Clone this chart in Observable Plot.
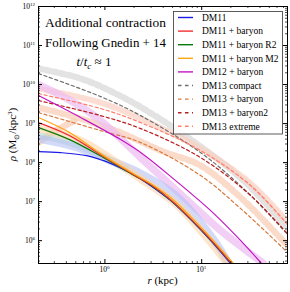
<!DOCTYPE html>
<html><head><meta charset="utf-8">
<script src="https://cdn.jsdelivr.net/npm/d3@7"></script>
<script src="https://cdn.jsdelivr.net/npm/@observablehq/plot@0.6"></script>
<style>body{margin:0;background:#fff}#c{width:290px;height:292px}</style>
</head><body><div id="c"></div>
<script>
// ---- data (r in kpc, rho in Msun/kpc^3) ----
const dm11_r   = [0.206, 0.348, 0.647, 0.97, 1.23, 1.98, 2.97, 4.78, 7.70, 12.4, 19.95];
const dm11_rho = [1.91e8, 1.80e8, 1.51e8, 1.12e8, 8.9e7, 4.9e7, 2.57e7, 1.06e7, 3.45e6, 1.0e6, 2.57e5];
const dm11b_r   = [0.206, 0.431, 0.97, 1.98, 2.97, 4.78, 7.70, 12.4, 20.4];
const dm11b_rho = [1.06e9, 4.92e8, 1.43e8, 4.9e7, 2.73e7, 1.12e7, 3.66e6, 1.06e6, 2.57e5];
const dm11r2_r   = [0.206, 0.431, 0.97, 1.98, 2.97, 4.78, 7.70, 12.4, 20.4];
const dm11r2_rho = [7.9e8, 3.89e8, 1.34e8, 4.78e7, 2.65e7, 1.09e7, 3.56e6, 1.03e6, 2.57e5];
const dm11m2_r   = [0.206, 0.431, 0.97, 1.98, 2.97, 4.78, 7.70, 12.4, 21.4];
const dm11m2_rho = [1.43e9, 5.9e8, 1.51e8, 5.2e7, 2.9e7, 1.27e7, 4.12e6, 1.19e6, 2.57e5];
const dm12b_r   = [0.206, 0.561, 1.453, 2.513, 5.384, 12.39, 25.31, 41.7];
const dm12b_rho = [5.22e9, 1.43e9, 3.89e8, 1.60e8, 3.45e7, 5.87e6, 1.0e6, 2.57e5];
const dm13c_r   = [0.206, 0.903, 2.34, 9.76, 28.5, 77];
const dm13c_rho = [1.91e10, 4.92e9, 1.60e9, 1.80e8, 1.91e7, 1.45e6];
const dm13b_r   = [0.206, 0.903, 2.34, 9.76, 25.3, 77];
const dm13b_rho = [1.91e9, 6.62e8, 3.26e8, 4.65e7, 6.62e6, 5.0e5];
const dm13b2_r   = [0.206, 0.903, 2.34, 9.76, 32.1, 77];
const dm13b2_rho = [3.89e9, 1.60e9, 7.45e8, 1.34e8, 1.43e7, 1.5e6];
const dm13x_r   = [0.206, 0.903, 2.34, 9.76, 32.1, 77];
const dm13x_rho = [5.87e9, 2.43e9, 1.06e9, 2.03e8, 2.57e7, 2.6e6];
// simulation bands (thick, faded)
const simGrey_r = [0.206, 0.561, 1.23, 2.70, 9.76, 28.5, 77];
const simGrey_rho = [2.57e10, 1.43e10, 6.24e9, 2.15e9, 2.57e8, 3.07e7, 2.1e6];
const simSalUp_r = [0.206, 0.903, 2.34, 9.76, 32.1, 77];
const simSalUp_rho = [7.9e9, 3.45e9, 1.34e9, 2.29e8, 2.90e7, 3.0e6];
const simSalLow_r = [0.206, 0.561, 1.453, 3.77, 9.76, 25.3, 77];
const simSalLow_rho = [2.57e9, 1.34e9, 5.87e8, 2.03e8, 8.38e7, 1.27e7, 7.5e5];
const simSalCore_r = [0.206, 0.309, 0.498];
const simSalCore_rho = [3.26e8, 6.62e8, 1.19e9];
const simPink_r = [0.206, 0.442, 0.903, 2.34, 7.165, 15.72, 43.8];
const simPink_rho = [1.0e10, 3.89e9, 1.19e9, 1.34e8, 1.06e7, 1.80e6, 2.57e5];
const simTeal_r = [0.206, 0.442, 0.903, 1.64];
const simTeal_rho = [4.92e8, 3.26e8, 1.51e8, 7.0e7];
const simBlue_r = [0.206, 0.561, 1.145, 2.34, 5.38, 12.39, 19.0];
const simBlue_rho = [4.12e8, 2.29e8, 1.12e8, 5.22e7, 1.43e7, 1.34e6, 2.57e5];
const simOrange_r = [0.206, 0.561, 1.145, 2.34, 5.38, 11.0, 18.5];
const simOrange_rho = [7.45e8, 3.66e8, 1.27e8, 3.89e7, 8.9e6, 1.3e6, 2.57e5];

// legend
const legendNames = ["DM11", "DM11 + baryon", "DM11 + baryon R2", "DM11 + baryon M2", "DM12 + baryon",
  "DM13 compact", "DM13 + baryon", "DM13 + baryon2", "DM13 extreme"];
const legendColors = ["#1a1ae6", "#f03030", "#0a780a", "#ffa510", "#c414c4", "#6e6e6e", "#d8783e", "#b81c1c", "#ff7d6a"];
const legendDashed = [false, false, false, false, false, true, true, true, true];

// ticks
const xMajor = [1, 10];
const xMinor = [0.3,0.4,0.5,0.6,0.7,0.8,0.9,2,3,4,5,6,7,8,9,20,30,40,50,60,70];
const yMajor = [1e6,1e7,1e8,1e9,1e10,1e11,1e12];
const yMinor = [];
for (let e = 5; e <= 11; e++) for (let m = 2; m <= 9; m++) { const v = m * 10 ** e; if (v >= 2.6e5 && v <= 1e12) yMinor.push(v); }

const pts = (r, rho) => r.map((d, i) => ({r: d, rho: rho[i]}));
const W = 290, H = 292, mL = 38, mR = 3, mT = 6, mB = 29;
const iw = W - mL - mR, ih = H - mT - mB;

const band = (r, rho, stroke, width, opacity, dash) =>
  Plot.line(pts(r, rho), {x: "r", y: "rho", stroke, strokeWidth: width, strokeOpacity: opacity,
    strokeDasharray: dash, curve: "catmull-rom", clip: true});
const ln = (r, rho, i) =>
  Plot.line(pts(r, rho), {x: "r", y: "rho", stroke: legendColors[i], strokeWidth: 1.2,
    strokeDasharray: legendDashed[i] ? "3.2,2.6" : null, curve: "catmull-rom", clip: true});

const plot = Plot.plot({
  width: W, height: H, marginLeft: mL, marginRight: mR, marginTop: mT, marginBottom: mB,
  style: {fontFamily: "Liberation Serif", background: "#fff"},
  x: {type: "log", domain: [0.206, 77], axis: null},
  y: {type: "log", domain: [2.6e5, 1e12], axis: null},
  marks: [
    band(simGrey_r, simGrey_rho, "#dcdcdc", 6.5, 0.8, "4,3.5"),
    band(simSalUp_r, simSalUp_rho, "#fbcfc0", 6, 0.7, "4,3.5"),
    band(simSalLow_r, simSalLow_rho, "#f8cdb6", 6.5, 0.75, "4,3.5"),
    band(simSalCore_r, simSalCore_rho, "#f8cdb6", 6.5, 0.75, "4,3.5"),
    band(simPink_r, simPink_rho, "#ecbcf2", 7.5, 0.7, null),
    band(simTeal_r, simTeal_rho, "#a9d6cc", 7, 0.55, null),
    band(simBlue_r, simBlue_rho, "#b6c0f4", 8, 0.6, null),
    band(simOrange_r, simOrange_rho, "#fcd6aa", 8, 0.6, null),
    ln(dm13c_r, dm13c_rho, 5),
    ln(dm13b_r, dm13b_rho, 6),
    ln(dm13b2_r, dm13b2_rho, 7),
    ln(dm13x_r, dm13x_rho, 8),
    ln(dm12b_r, dm12b_rho, 4),
    ln(dm11_r, dm11_rho, 0),
    ln(dm11r2_r, dm11r2_rho, 2),
    ln(dm11b_r, dm11b_rho, 1),
    ln(dm11m2_r, dm11m2_rho, 3),
    Plot.tickX(xMajor, {x: d => d, insetTop: ih - 4, stroke: "#000"}),
    Plot.tickX(xMajor, {x: d => d, insetBottom: ih - 4, stroke: "#000"}),
    Plot.tickX(xMinor, {x: d => d, insetTop: ih - 2, stroke: "#000", strokeWidth: 0.7}),
    Plot.tickX(xMinor, {x: d => d, insetBottom: ih - 2, stroke: "#000", strokeWidth: 0.7}),
    Plot.tickY(yMajor, {y: d => d, insetRight: iw - 4, stroke: "#000"}),
    Plot.tickY(yMajor, {y: d => d, insetLeft: iw - 4, stroke: "#000"}),
    Plot.tickY(yMinor, {y: d => d, insetRight: iw - 2, stroke: "#000", strokeWidth: 0.7}),
    Plot.tickY(yMinor, {y: d => d, insetLeft: iw - 2, stroke: "#000", strokeWidth: 0.7}),
    Plot.frame({stroke: "#000", strokeWidth: 1})
  ]
});
document.getElementById("c").appendChild(plot);

const svg = d3.select(plot);
const sx = plot.scale("x"), sy = plot.scale("y");
const SERIF = "Liberation Serif";
const txt = (x, y, anchor, size) => svg.append("text").attr("x", x).attr("y", y)
  .attr("text-anchor", anchor).attr("font-family", SERIF).attr("font-size", size).attr("fill", "#000");

// tick labels
xMajor.forEach(v => {
  const t = txt(sx.apply(v), 272, "middle", 7.5);
  t.append("tspan").text("10");
  t.append("tspan").attr("font-size", 5).attr("dy", -3).text(String(Math.round(Math.log10(v))));
});
yMajor.forEach(v => {
  const t = txt(35, sy.apply(v) + 2.5, "end", 7.5);
  t.append("tspan").text("10");
  t.append("tspan").attr("font-size", 5).attr("dy", -3).text(String(Math.round(Math.log10(v))));
});

// axis titles
{
  const t = txt((mL + W - mR) / 2, 284, "middle", 11);
  t.append("tspan").attr("font-style", "italic").text("r");
  t.append("tspan").text(" (kpc)");
}
{
  const t = svg.append("text").attr("transform", `translate(16,${(mT + H - mB) / 2}) rotate(-90)`)
    .attr("text-anchor", "middle").attr("font-family", SERIF).attr("font-size", 11).attr("fill", "#000");
  t.append("tspan").attr("font-style", "italic").text("ρ");
  t.append("tspan").text(" (M");
  t.append("tspan").attr("font-size", 7).attr("dy", 2.5).text("⊙");
  t.append("tspan").attr("dy", -2.5).text("/kpc");
  t.append("tspan").attr("font-size", 7).attr("dy", -4).text("3");
  t.append("tspan").attr("dy", 4).text(")");
}

// annotation
txt(45, 27, "start", 13).attr("textLength", 121).attr("lengthAdjust", "spacingAndGlyphs").text("Additional contraction");
txt(45, 47, "start", 13).attr("textLength", 121).attr("lengthAdjust", "spacingAndGlyphs").text("Following Gnedin + 14");
{
  const t = txt(94, 66, "middle", 13);
  t.append("tspan").attr("font-style", "italic").text("t");
  t.append("tspan").text("/");
  t.append("tspan").attr("font-style", "italic").text("t");
  t.append("tspan").attr("font-style", "italic").attr("font-size", 9).attr("dy", 3).text("c");
  t.append("tspan").attr("dy", -3).text(" ≈ 1");
}

// legend
const lg = svg.append("g");
lg.append("rect").attr("x", 173.5).attr("y", 11.5).attr("width", 109).attr("height", 122.5)
  .attr("fill", "#fff").attr("fill-opacity", 0.85).attr("stroke", "#333").attr("stroke-width", 0.8);
legendNames.forEach((name, i) => {
  const y = 17.5 + i * 13.6;
  lg.append("line").attr("x1", 178).attr("x2", 193).attr("y1", y).attr("y2", y)
    .attr("stroke", legendColors[i]).attr("stroke-width", 1.4)
    .attr("stroke-dasharray", legendDashed[i] ? "3.5,3.5" : null);
  lg.append("text").attr("x", 202).attr("y", y + 3.2).attr("text-anchor", "start")
    .attr("font-family", SERIF).attr("font-size", 9.5).attr("fill", "#000").text(name);
});
</script></body></html>
